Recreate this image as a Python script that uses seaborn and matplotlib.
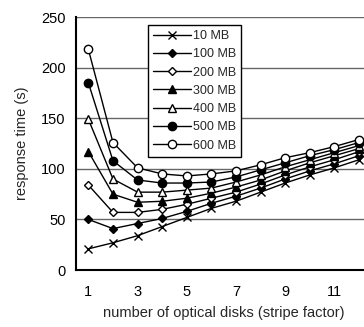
import numpy as np
import pandas as pd
import matplotlib
matplotlib.use("Agg")
import matplotlib.pyplot as plt
import seaborn as sns

sns.set_style("white")
plt.rcParams["font.family"] = ["Liberation Sans", "DejaVu Sans"]

disks = list(range(1, 13))
sizes = ["10 MB", "100 MB", "200 MB", "300 MB", "400 MB", "500 MB", "600 MB"]
t_10 = [21, 27, 34, 43, 52, 61, 68, 77, 86, 94, 101, 109]
t_100 = [50, 41, 46, 51, 58, 66, 73, 81, 90, 98, 105, 113]
t_200 = [84, 57, 57, 60, 65, 71, 77, 85, 94, 102, 109, 117]
t_300 = [117, 75, 67, 68, 71, 76, 82, 89, 98, 106, 113, 120]
t_400 = [149, 90, 77, 77, 79, 81, 87, 94, 102, 109, 116, 123]
t_500 = [185, 108, 89, 86, 86, 87, 92, 99, 106, 113, 119, 126]
t_600 = [218, 126, 101, 95, 93, 95, 98, 104, 111, 116, 122, 129]
series = [t_10, t_100, t_200, t_300, t_400, t_500, t_600]

markers = ["x", "D", "D", "^", "^", "o", "o"]
faces = ["black", "black", "white", "black", "white", "black", "white"]
msizes = [6, 4.5, 4.5, 5.5, 5.5, 6, 6]

df = pd.DataFrame({
    "disks": disks * len(sizes),
    "time": sum(series, []),
    "size": [s for s in sizes for _ in disks],
})

fig = plt.figure(figsize=(3.64, 3.27), dpi=100)
ax = fig.add_axes([0.209, 0.174, 0.811, 0.774])

for s, m, fc, ms in zip(sizes, markers, faces, msizes):
    sub = df[df["size"] == s]
    sns.lineplot(data=sub, x="disks", y="time", ax=ax, color="black",
                 marker=m, markerfacecolor=fc, markeredgecolor="black",
                 markersize=ms, markeredgewidth=1, linewidth=1, label=s)

ax.set_xlim(0.5, 12.5)
ax.set_ylim(0, 250)
ax.set_yticks([0, 50, 100, 150, 200, 250])
ax.yaxis.grid(True, color="0.4", linewidth=1)
ax.set_axisbelow(True)

xt = np.arange(0.5, 12.6, 0.5)
ax.set_xticks(xt)
ax.set_xticklabels([str(int(v)) if v == int(v) and int(v) % 2 == 1 else "" for v in xt])
ax.tick_params(axis="x", direction="inout", length=6, width=1, labelsize=10.5, pad=8, colors="black")
ax.tick_params(axis="y", direction="out", length=4, width=1, labelsize=10.5, colors="black")

for side in ["top", "right"]:
    ax.spines[side].set_visible(False)
for side in ["left", "bottom"]:
    ax.spines[side].set_color("black")
    ax.spines[side].set_linewidth(1.5)

ax.set_xlabel("number of optical disks (stripe factor)", fontsize=10.5, labelpad=5)
ax.set_ylabel("response time (s)", fontsize=10.5, labelpad=9)

leg = ax.legend(loc="upper left", bbox_to_anchor=(0.244, 0.968), fontsize=9,
                frameon=True, fancybox=False, edgecolor="black", framealpha=1,
                handlelength=3.0, handletextpad=0.2, labelspacing=0.5,
                borderpad=0.4, borderaxespad=0)
leg.get_frame().set_linewidth(1)

fig.savefig("out.png", dpi=100)
